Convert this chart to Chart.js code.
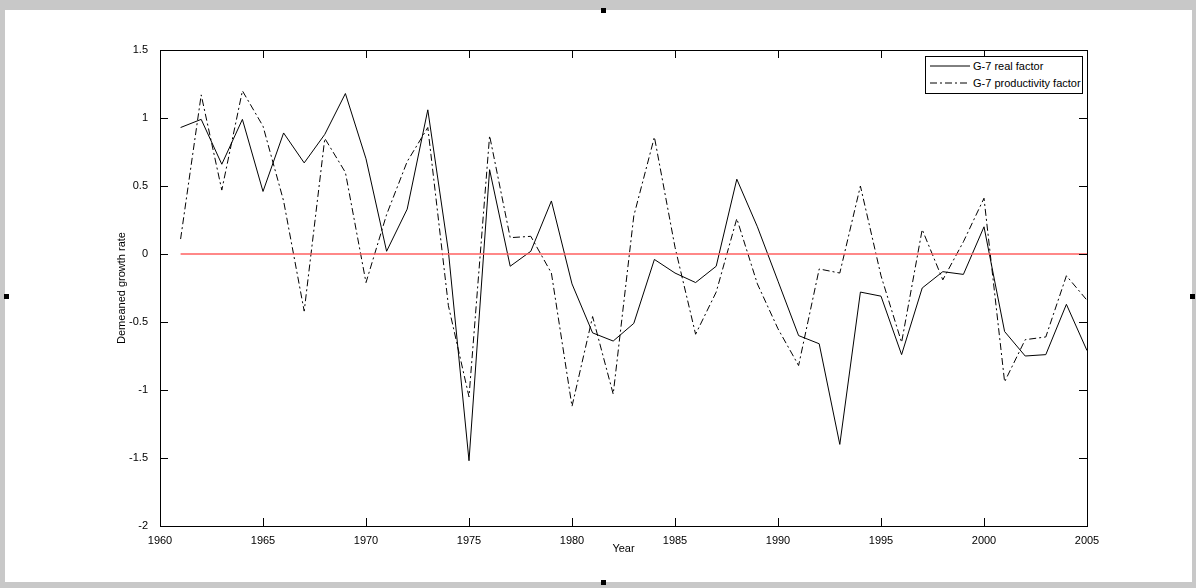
<!DOCTYPE html>
<html>
<head>
<meta charset="utf-8">
<script src="https://cdn.jsdelivr.net/npm/chart.js@4/dist/chart.umd.min.js"></script>
<style>
  body { margin: 0; background: #c8c8c8; width: 1196px; height: 588px; position: relative; overflow: hidden; font-family: "Liberation Sans", Arial, sans-serif; }
  #box { position: absolute; left: 5px; top: 10px; width: 1187px; height: 572px; background: #fff; }
  #legend { position: absolute; left: 925px; top: 56px; width: 156px; height: 36px; border: 1px solid #000; background: #fff; font-size: 11px; color: #000; }
  #legend div { position: relative; height: 16px; line-height: 16px; padding-left: 47px; margin-top: 1px; }
  #legend svg { position: absolute; left: 4px; top: 7px; }
  .h { position: absolute; width: 5px; height: 5px; background: #000; }
</style>
</head>
<body>
<div id="box"><canvas id="chart" width="1187" height="572"></canvas></div>
<div id="legend">
  <div><svg width="40" height="3"><line x1="0" y1="1" x2="40" y2="1" stroke="#000"/></svg>G-7 real factor</div>
  <div><svg width="40" height="3"><line x1="0" y1="1" x2="40" y2="1" stroke="#000" stroke-dasharray="7,3,2,3"/></svg>G-7 productivity factor</div>
</div>
<div class="h" style="left:601px;top:8px"></div>
<div class="h" style="left:4px;top:294px"></div>
<div class="h" style="left:1190px;top:294px"></div>
<div class="h" style="left:601px;top:580px"></div>
<script>
const years = []
for (let y = 1961; y <= 2005; y++) years.push(y)
const realFactor = [0.93, 0.99, 0.66, 0.99, 0.46, 0.89, 0.67, 0.88, 1.18, 0.70,
  0.02, 0.33, 1.06, 0.02, -1.52, 0.62, -0.09, 0.02, 0.39, -0.22,
  -0.58, -0.64, -0.51, -0.04, -0.14, -0.21, -0.09, 0.55, 0.20, -0.20,
  -0.60, -0.66, -1.40, -0.28, -0.31, -0.74, -0.25, -0.13, -0.15, 0.20,
  -0.57, -0.75, -0.74, -0.37, -0.71]
const productivityFactor = [0.11, 1.17, 0.47, 1.20, 0.94, 0.39, -0.42, 0.85, 0.60, -0.21,
  0.29, 0.68, 0.93, -0.38, -1.05, 0.87, 0.12, 0.13, -0.14, -1.12,
  -0.46, -1.03, 0.28, 0.86, 0.05, -0.59, -0.28, 0.26, -0.22, -0.55,
  -0.82, -0.11, -0.14, 0.50, -0.16, -0.65, 0.18, -0.19, 0.09, 0.41,
  -0.94, -0.63, -0.61, -0.16, -0.34]
const zeroLine = [{ x: 1961, y: 0 }, { x: 2005, y: 0 }]

// draws the box and inward tick marks on all four sides
const boxTicks = {
  id: 'boxTicks',
  afterDraw(chart) {
    const c = chart.ctx, a = chart.chartArea
    const xs = chart.scales.x, ys = chart.scales.y
    c.save()
    c.strokeStyle = '#000'
    c.lineWidth = 1
    c.strokeRect(a.left + 0.5, a.top + 0.5, a.right - a.left, a.bottom - a.top)
    c.beginPath()
    xs.ticks.forEach(t => {
      const px = Math.round(xs.getPixelForValue(t.value)) + 0.5
      c.moveTo(px, a.bottom); c.lineTo(px, a.bottom - 8)
      c.moveTo(px, a.top); c.lineTo(px, a.top + 8)
    })
    ys.ticks.forEach(t => {
      const py = Math.round(ys.getPixelForValue(t.value)) + 0.5
      c.moveTo(a.left, py); c.lineTo(a.left + 8, py)
      c.moveTo(a.right, py); c.lineTo(a.right - 8, py)
    })
    c.stroke()
    c.restore()
  }
}

const font = { family: '"Liberation Sans", Arial, sans-serif', size: 11 }

new Chart(document.getElementById('chart').getContext('2d'), {
  type: 'line',
  data: {
    labels: years,
    datasets: [
      {
        label: 'zero',
        data: zeroLine,
        borderColor: '#ff6060',
        borderWidth: 1.5,
        pointRadius: 0,
      },
      {
        label: 'G-7 real factor',
        data: years.map((x, i) => ({ x: x, y: realFactor[i] })),
        borderColor: '#000',
        borderWidth: 1,
        pointRadius: 0,
        tension: 0,
      },
      {
        label: 'G-7 productivity factor',
        data: years.map((x, i) => ({ x: x, y: productivityFactor[i] })),
        borderColor: '#000',
        borderWidth: 1,
        borderDash: [7, 3, 2, 3],
        pointRadius: 0,
        tension: 0,
      },
    ],
  },
  options: {
    responsive: false,
    animation: false,
    layout: { padding: { left: 110, top: 40, right: 105, bottom: 26 } },
    plugins: { legend: { display: false }, tooltip: { enabled: false } },
    scales: {
      x: {
        type: 'linear',
        min: 1960,
        max: 2005,
        grid: { display: false },
        border: { display: false },
        ticks: { stepSize: 5, color: '#000', font: font, maxRotation: 0, padding: 0, callback: v => String(v) },
        title: { display: true, text: 'Year', color: '#000', font: font, padding: 0 },
        afterFit: s => { s.height = 30 },
      },
      y: {
        min: -2,
        max: 1.5,
        grid: { display: false },
        border: { display: false },
        ticks: { stepSize: 0.5, color: '#000', font: font, padding: 4, callback: v => String(v) },
        title: { display: true, text: 'Demeaned growth rate', color: '#000', font: font, padding: 0 },
        afterFit: s => { s.width = 45 },
      },
    },
  },
  plugins: [boxTicks],
})
</script>
</body>
</html>
